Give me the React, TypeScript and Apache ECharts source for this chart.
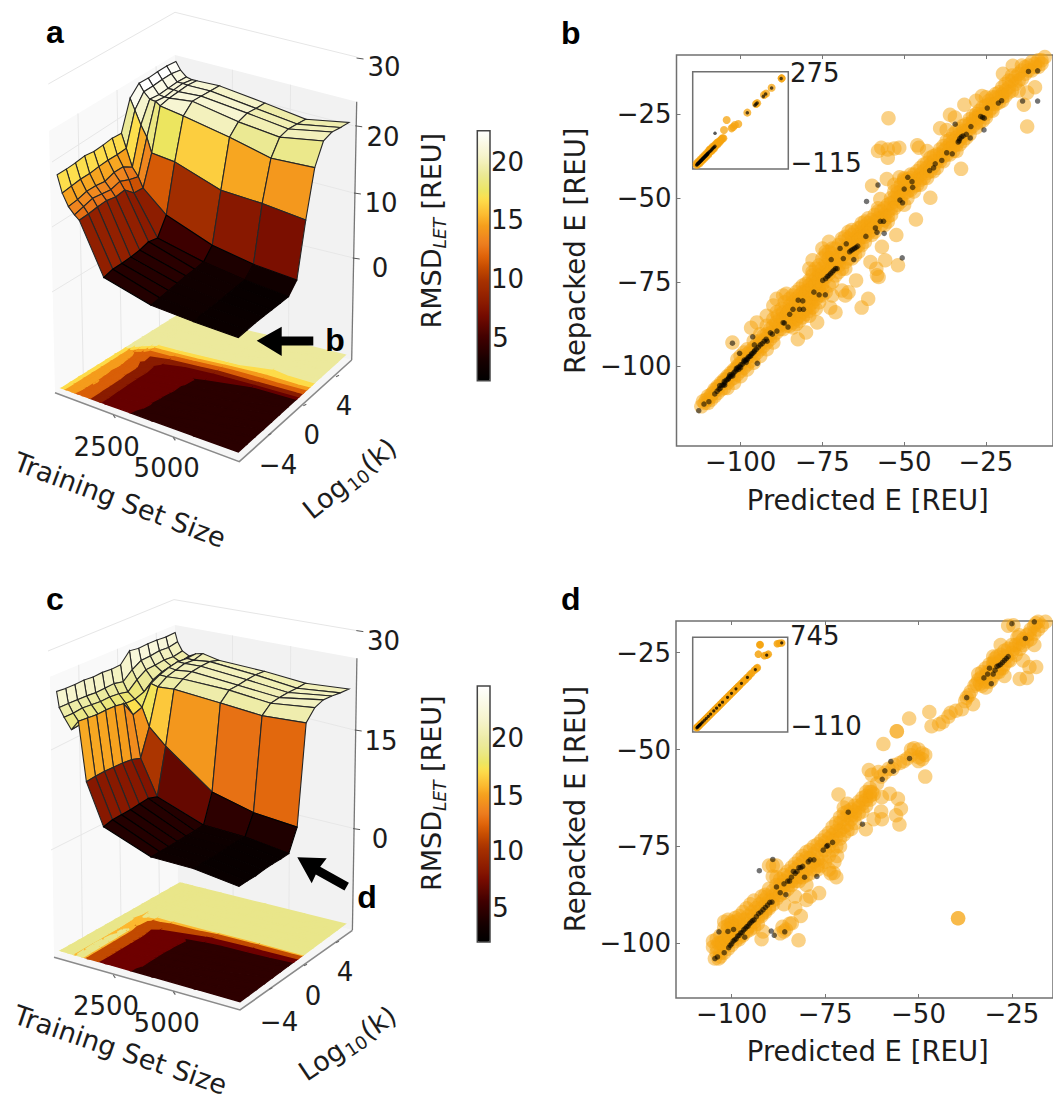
import React, { useEffect, useRef } from "react";
import * as echarts from "echarts";

const DEJAVU = "DejaVu Sans";
const INK = "#1c1c1c";

// ---- 3D surfaces: training set sizes, log10(k) rows, RMSD values (one row per training size)
const K_ROWS = [-7, -6, -5, -4, -3, -2, -1, 0, 1, 2, 3, 4, 5, 6];
const SIZES_A = [100, 300, 550, 800, 1000, 2000, 4000, 5800, 7700];
const SIZES_C = [100, 200, 400, 700, 1000, 1300, 2000, 4000, 5800, 7700];
const RMSD_A = [
  [18.1, 18.0, 18.0, 18.1, 17.8, 17.8, 17.9, 17.7, 22.0, 23.3, 23.1, 23.1, 23.0, 22.7],
  [15.5, 15.6, 15.7, 15.6, 15.7, 15.7, 15.6, 15.6, 20.4, 22.2, 22.1, 22.1, 22.0, 21.6],
  [13.7, 13.8, 14.1, 14.0, 13.7, 14.1, 14.0, 13.0, 18.4, 21.3, 21.0, 21.0, 21.0, 20.8],
  [12.7, 13.0, 13.3, 13.0, 12.7, 13.0, 12.3, 11.8, 16.8, 21.2, 20.9, 21.0, 21.0, 20.6],
  [12.1, 12.1, 12.2, 12.2, 11.8, 11.9, 10.5, 10.3, 14.6, 20.7, 20.9, 20.9, 20.9, 20.6],
  [4.5, 4.8, 4.7, 4.7, 4.8, 5.1, 4.7, 7.2, 14.2, 20.1, 21.3, 21.1, 20.9, 20.7],
  [2.6, 2.7, 2.8, 2.9, 3.0, 3.0, 3.1, 4.6, 11.8, 18.7, 20.0, 20.3, 20.0, 19.8],
  [2.2, 2.3, 2.2, 2.2, 2.2, 2.2, 2.2, 3.5, 11.5, 17.2, 19.3, 19.5, 19.2, 18.9],
  [2.0, 2.0, 2.0, 1.9, 1.8, 1.7, 1.6, 3.0, 10.8, 17.5, 20.4, 20.7, 20.3, 20.0],
];
const RMSD_C = [
  [22.9, 22.7, 22.6, 22.6, 22.4, 22.4, 22.2, 22.2, 23.6, 23.3, 23.3, 23.2, 23.0, 23.0],
  [20.7, 20.6, 20.5, 20.4, 20.2, 20.2, 20.2, 19.8, 20.9, 21.6, 21.6, 21.7, 21.5, 21.7],
  [19.5, 19.4, 19.5, 19.3, 19.1, 19.1, 18.9, 18.5, 19.6, 20.4, 20.4, 20.5, 20.3, 20.5],
  [18.0, 18.1, 18.2, 18.1, 17.9, 17.9, 17.8, 17.7, 18.1, 19.2, 19.7, 19.9, 19.8, 20.0],
  [19.5, 19.3, 19.1, 19.1, 19.0, 18.7, 16.4, 16.8, 19.6, 20.2, 20.6, 20.8, 20.6, 20.6],
  [11.1, 11.2, 11.2, 11.1, 11.0, 10.8, 10.3, 14.2, 19.4, 20.2, 20.5, 20.8, 20.6, 20.9],
  [5.3, 5.6, 5.6, 5.6, 5.7, 5.8, 5.3, 12.0, 19.7, 20.5, 20.9, 21.0, 21.0, 20.5],
  [2.9, 2.9, 2.9, 2.9, 2.9, 2.9, 3.0, 7.1, 19.5, 20.7, 20.7, 20.8, 20.8, 20.6],
  [3.0, 3.0, 2.9, 2.9, 3.0, 3.0, 2.9, 5.7, 19.3, 20.4, 20.5, 20.5, 20.4, 20.4],
  [2.3, 2.3, 2.2, 2.3, 2.3, 2.2, 2.2, 5.3, 20.0, 21.5, 21.9, 21.7, 21.4, 21.2],
];
const LEVELS_A = [3.5, 6.2, 9.7, 13.2, 15.8, 18.3];
const BANDS_A = ["#2a0000", "#660000", "#8a1c00", "#d95f08", "#f59c1c", "#fddc4a", "#ece99c"];
const LEVELS_C = [4.0, 7.8, 15.9, 18.2];
const BANDS_C = ["#2e0000", "#6e0000", "#c24a00", "#fcb82f", "#e9e68a"];

// ---- Scatter b
const B_ORANGE = [[-112,-112],[-111,-111],[-110.5,-110],[-110,-111],[-109,-108.5],[-109,-110],[-108,-107],[-108,-109],[-107,-106],[-107,-108],[-106,-105],[-106,-107],[-105,-104],[-105,-106.5],[-104,-103],[-104,-105],[-103,-102],[-103,-104],[-102,-101],[-102,-103.5],[-101,-100],[-101,-102.5],[-100,-99],[-100,-101.5],[-99,-98],[-99,-100.5],[-98,-96.5],[-98,-99.5],[-97,-95.5],[-97,-98.5],[-96,-94.5],[-96,-97],[-95,-93.5],[-95,-96],[-94,-92.5],[-94,-95],[-93,-91],[-93,-94],[-92,-90.5],[-92,-93],[-91,-89],[-91,-92],[-90,-88],[-90,-91],[-102.5,-93],
[-89,-87],[-89,-90],[-89,-84],[-88,-86],[-88,-89],[-87,-84],[-87,-87.5],[-86,-83],[-86,-86],[-85,-82],[-85,-85],[-85,-88],[-84,-81],[-84,-84],[-84,-87],[-83,-80],[-83,-83],[-83,-86],[-82,-79],[-82,-82],[-82,-85],[-81,-78],[-81,-81],[-81,-84],[-80,-77.5],[-80,-80],[-80,-83],[-79,-76],[-79,-79],[-79,-82],[-78,-75],[-78,-78],[-78,-81],[-77,-74],[-77,-77],[-77,-80],[-76,-73],[-76,-76],[-76,-79],[-75,-74],[-75,-77],
[-96.8,-88.6],[-95,-87],[-92,-85],[-90,-82],[-89,-80],[-87,-79],[-86,-78.5],[-78,-68.5],[-79,-71],[-78,-73],[-76,-72],[-75,-71],[-74,-69],[-75,-65],[-73,-66],[-72,-65],[-74,-67],[-73,-63],[-72,-68],
[-82.5,-92],[-80,-90],[-76.6,-87],[-79,-85],[-72.6,-82.6],[-72,-79],[-71,-84],[-69,-77.5],[-68,-79],[-67,-78],[-63,-82.6],[-61,-80],[-64.7,-74.5],[-58.3,-73],[-57.8,-73.5],[-58.5,-71],[-60.3,-69],[-55.8,-68.5],[-56.8,-64.5],[-51.9,-70],[-52.4,-61],[-46.4,-56.4],
[-74,-72],[-73,-71],[-72,-70],[-71,-69],[-70,-67],[-70,-70],[-69,-66],[-69,-63],[-68,-65],[-68,-69],[-67,-64],[-67,-62],[-66,-63],[-66,-59.5],[-66,-66],[-65,-62],[-65,-65],[-64,-61],[-64,-64],[-63,-60],[-63,-57.5],[-62,-60],[-62,-57],[-62,-63],[-61,-59],[-61,-56],[-60,-58],[-60,-61],[-59,-57],[-59,-60],[-58,-56],[-58,-54],[-57,-56],[-56,-55],[-56,-58],[-55,-54],[-55,-57],[-54,-53],[-54,-50],[-53,-51],[-53,-48],[-52,-50],[-52,-47],[-51,-48],[-51,-51],[-50,-47],[-50,-44],[-49,-46],[-49,-50],[-48,-46],[-48,-44],[-47,-45],[-47,-48],[-46,-44],[-45,-43],[-45,-46],[-44,-42],[-43,-41],[-43,-44],[-42,-40],[-41,-39],[-41,-42],[-40,-39],[-39,-37],[-39,-39],[-38,-36],[-38,-39],[-37,-35],[-36,-34],[-36,-37],[-35,-33],[-35,-36],[-34,-32],[-34,-36],[-33,-31],[-33,-34],[-32,-30],[-32,-33],[-31,-30],[-30,-28],[-30,-31],[-29,-27],[-28,-26],[-28,-29],[-27,-25],[-27,-27.5],[-26,-25],[-25,-24],[-25,-26],[-24,-22],[-23,-22],[-23,-24],[-22,-20],[-21,-20],[-20,-19],[-20,-21],[-19,-18],[-18,-17],[-17,-15],[-17,-18],[-16,-14],[-15,-15],[-14,-12],[-13,-13],[-12,-10.5],[-11,-12],[-10,-10],[-9,-11],[-8,-9],
[-54.8,-26.2],[-57,-35],[-55,-35.5],[-53,-35.2],[-51.5,-35],[-58,-36],[-55,-38],[-46,-34.3],[-45.5,-35],[-59.8,-46.3],[-55.3,-44.3],[-51.4,-43.8],[-57.3,-50.3],[-53,-46],[-50,-44.5],[-42,-49.9],[-32.6,-41.3],[-36,-25.2],[-34.5,-26],[-31.6,-22.2],[-39,-29.2],[-37,-29.7],[-26.2,-19.6],[-19.8,-13],[-16.8,-10.6],[-12.4,-28.7],[-13.4,-22.2],[-12.4,-18.6],[-43,-36],[-28,-21],[-25,-20],[-15,-18],[-10,-17]];
const B_ORANGE_BAND = [[-111.5,-110.5],[-110,-109],[-109.5,-109.5],[-108.5,-108],[-107.5,-107],[-106.5,-106],[-105.5,-105],[-104.5,-104],[-103.5,-103],[-102.5,-102],[-101.5,-101],[-100.5,-100],[-99.5,-99],[-98.5,-98],[-97.5,-97],[-96.5,-96],[-95.5,-95],[-94.5,-94],[-93.5,-93],[-92.5,-92],[-91.5,-91],[-90.5,-90],[-104,-106.5],[-102,-105],[-100,-103],[-98,-101],[-96,-99],[-94,-97],[-92,-95],[-90,-93],[-100,-97],[-98,-95],[-96,-92.5],[-94,-90.5],[-92,-88],[-90,-86],[-101,-98],[-99,-96],
[-89,-88],[-88.5,-85],[-88,-88],[-87.5,-83],[-87,-86],[-87,-89],[-86.5,-81],[-86,-85],[-86,-88],[-85.5,-84],[-85,-80],[-85,-83.5],[-85,-86.5],[-84,-79],[-84,-82.5],[-84,-85.5],[-84,-88.5],[-83,-78],[-83,-81.5],[-83,-84.5],[-83,-87.5],[-82,-77],[-82,-80.5],[-82,-83.5],[-82,-86.5],[-81,-76],[-81,-79.5],[-81,-82.5],[-81,-85.5],[-80,-75.5],[-80,-78.5],[-80,-81.5],[-80,-84.5],[-79,-74.5],[-79,-77.5],[-79,-80.5],[-79,-83.5],[-78,-72],[-78,-76.5],[-78,-79.5],[-78,-82.5],[-77,-71],[-77,-75.5],[-77,-78.5],[-77,-83],[-76,-70],[-76,-74.5],[-76,-77.5],[-76,-81],[-75,-68],[-75,-72.5],[-75,-75.5],[-75,-79],[-74,-66],[-74,-70],[-74,-73.5],[-74,-78],[-73,-68],[-73,-72.5],[-73,-76],[-72,-66.5],[-72,-71],[-72,-75],[-71,-65],[-71,-70],[-71,-73],[-70,-64],[-70,-68.5],[-70,-72],[-69,-62],[-69,-67.5],[-69,-71],[-68,-61.5],[-68,-66.5],[-68,-71],[-67,-60],[-67,-65],[-67,-68],[-66,-61],[-66,-64.5],[-66,-68],[-65,-60],[-65,-63.5],[-65,-67],[-64,-59],[-64,-62.5],[-64,-66],[-63,-58.5],[-63,-61.5],[-63,-64],[-62,-58.5],[-62,-61.5],[-61,-57.5],[-61,-60.5],[-60,-56.5],[-60,-59.5],[-59,-55],[-59,-58.5],[-58,-57],[-58,-53],[-57,-54],[-57,-58],[-56,-53],[-56,-56.5],[-55,-52],[-55,-55.5],[-54,-51.5],[-54,-55],[-53,-50],[-53,-53],[-52,-48.5],[-52,-52],[-51,-46],[-51,-49.5],[-50,-45],[-50,-48.5],[-50,-52],[-49,-44.5],[-49,-48],[-48,-43],[-48,-47.5],[-47,-43],[-47,-46.5],[-46,-42],[-46,-46],[-45,-41],[-45,-44.5],[-44,-40],[-44,-44],[-43,-39.5],[-43,-42.5],[-42,-38],[-42,-42],[-41,-37.5],[-41,-40.5],[-40,-37],[-40,-41],[-39,-35.5],[-39,-38],[-38,-34.5],[-38,-37.5],[-37,-33],[-37,-37],[-36,-32.5],[-36,-35.5],[-35,-31],[-35,-34.5],[-34,-30],[-34,-34],[-33,-29.5],[-33,-32.5],[-32,-28.5],[-32,-31.5],[-31,-28],[-31,-32],[-30,-26.5],[-30,-29.5],[-29,-25.5],[-29,-28.5],[-28,-25],[-28,-27.5],[-27,-24],[-27,-26],[-26,-23],[-26,-27],[-25,-22.5],[-25,-25],[-24,-21],[-24,-24],[-23,-20],[-23,-23],[-22,-19],[-22,-22],[-21,-18.5],[-21,-21.5],[-20,-17],[-20,-20],[-19,-16],[-19,-19.5],[-18,-15],[-18,-18.5],[-17,-13.5],[-16,-16],[-15,-13],[-14,-14.5],[-14,-10.5],[-13,-11],[-12,-12],[-11,-9.5],[-10,-11],[-9,-9],[-8,-10],[-7,-8]];
const B_BLACK = [[-112.8,-113.3],[-111.2,-111.3],[-109.7,-110.6],[-107.9,-108.3],[-107.2,-107.5],[-106.6,-106.9],[-106.2,-106.6],[-105.7,-105.7],[-105.3,-105.6],[-104.8,-105],[-104.4,-104.2],[-103.9,-104],[-103.5,-103.2],[-103,-103.1],[-102.6,-102.5],[-102.1,-102],[-101.7,-101.6],[-101.2,-101.1],[-100.8,-100.4],[-100.3,-100.2],[-99.9,-99.6],[-99.4,-99.4],[-99,-98.7],[-98.5,-98.4],[-98.1,-97.9],[-97.6,-97.3],[-97.2,-97.1],[-96.7,-96.4],[-96.3,-96.2],[-95.7,-95.4],[-95.2,-95],[-94.6,-94.4],[-94,-93.7],[-93.4,-93.3],[-92.8,-92.6],[-92.2,-92],[-106.4,-105.8],[-105,-104.6],[-103.7,-103.7],[-102.4,-102.9],[-101.3,-100.7],[-100,-100.5],[-98.9,-98.2],[-97.9,-98],[-96.9,-97],[-95.9,-95.8],[-104.9,-105.7],[-103.3,-102.6],[-100.6,-101],[-98.3,-98.9],
[-102.5,-93.2],[-95.8,-93.7],[-94.9,-99.2],[-96.3,-91.3],[-100.3,-96.2],[-91.9,-92.6],[-90.9,-90.1],[-90.3,-90.5],[-88.9,-89.6],[-87,-87.1],[-86.6,-87.2],[-85.5,-88.4],[-85,-84.6],[-84,-83.1],[-82,-83.1],[-81,-80.6],[-80.8,-83.1],[-82.4,-80.4],[-77.6,-78],[-76,-78.8],[-74.1,-78.8],[-74.9,-74.5],[-74,-74],[-73.5,-73.4],[-73,-73],[-72.5,-72.5],[-72,-72],[-71.5,-71.5],[-71,-71],[-70.5,-71],[-72.3,-68.3],[-69.6,-65],[-67.7,-63.6],[-68.6,-68],[-66.7,-66],[-66.2,-65.6],[-65.7,-65.3],[-65.2,-65],[-64.7,-64.7],[-64.2,-64.3],[-65.4,-68.3],[-61.7,-61.4],[-58.8,-58.9],[-58.3,-60.2],[-56.1,-60.5],[-57.3,-56.9],[-56.3,-56.9],[-61.5,-51],[-50.6,-67.8],[-58,-46.1],[-51.3,-50.6],[-50.5,-51.4],[-50,-47.3],[-48.9,-43.8],[-47.6,-45.1],[-47.4,-46.8],[-42.2,-41.8],[-41,-41],[-40.5,-39.8],[-38.5,-38.8],[-37,-36.5],[-35.3,-36.8],[-33.5,-33.3],[-33.2,-33],[-33,-32.3],[-32.5,-31.8],[-32,-31.5],[-31,-31],[-29.8,-32.1],[-29.6,-28.7],[-34.4,-28],[-26.6,-25.7],[-26,-26],[-25.5,-26.2],[-24.6,-23.2],[-25.6,-29.7],[-21.2,-21.7],[-20.2,-21],[-13.8,-21.1],[-9.2,-21.1],[-12,-12.3],[-9.2,-12.1]];
const B_INSET_ORANGE = [[-112,-113],[-108,-108],[-104,-105],[-100,-99],[-96,-97],[-92,-90],[-88,-90],[-84,-83],[-80,-82],[-76,-74],[-72,-74],[-68,-66],[-64,-62],[-60,-62],[-56,-50],[-52,-54],[-48,-44],[-44,-46],[-40,-36],[-36,-38],[-32,-30],[-28,-28],[-24,-20],[-20,-22],[-16,-12],[-12,-14],[-8,-6],[-4,-4],[0,2],[4,6],[8,6],[22.8,86.5],[10.8,42.3],[45,49.7],[52,56],[60,64.4],[75,69],[115.7,119],[154.6,157],[160,161],[190.6,197],[200,204],[225,229.4],[270,270.6],[270,270.6],[-112,-106],[-105,-98],[-100,-106],[-95,-88],[-90,-96],[-85,-78],[-80,-86],[-75,-68],[-70,-76],[-65,-58],[-60,-66],[-55,-46],[-50,-42],[-45,-50],[-40,-32],[-35,-40],[-30,-24],[-20,-14]];
const B_INSET_BLACK = [[-112,-112],[-110,-110],[-108,-107],[-107,-107],[-105,-105],[-104,-104],[-102,-102],[-101,-101],[-99,-99],[-98,-98],[-96,-96],[-95,-95],[-93,-93],[-92,-92],[-90,-90],[-89,-89],[-87,-87],[-86,-86],[-84,-84],[-83,-83],[-81,-81],[-80,-80],[-78,-78],[-77,-77],[-75,-75],[-74,-74],[-72,-72],[-71,-71],[-69,-69],[-68,-68],[-66,-66],[-65,-65],[-63,-63],[-62,-62],[-59,-58],[-55,-54],[-50,-50],[-46,-46],[-42,-42],[-38,-37],[-34,-34],[-30,-30],[-29.6,27.6],[115.7,119],[150,152],[155,157],[160,162],[188,191],[198,201],[225,228],[268,270]];

// ---- Scatter d
const D_ORANGE = [[-104.5,-104],[-103.5,-104],[-103,-102.5],[-104,-101],[-105,-99.5],[-105,-101],[-104,-99],[-103,-100],[-103,-98],[-102,-101],[-102,-99],[-101,-100],[-101,-98],[-100,-99],[-100,-97],[-99,-98],[-99,-95.5],[-98,-97],[-98,-99],[-97,-96],[-97,-98],[-96,-95],[-96,-97],[-95,-94],[-95,-96.5],[-94,-93],[-94,-96],[-93,-92],[-93,-95],[-92,-91],[-92,-93],[-92,-99],[-91.6,-97],[-91,-90],[-91,-92],[-90,-89],[-90,-91],[-102,-94.5],[-101,-94],[-100,-94.5],[-99,-94.5],[-98,-94],[-101,-95.5],[-100,-96],[-97,-92],[-96,-91],[-95,-90],[-94,-89],[-92,-88],[-91,-87.5],
[-90,-86],[-89,-88],[-89,-90],[-89,-80],[-90,-80],[-88,-80],[-89,-82.8],[-88,-83],[-88,-87],[-87,-86],[-87,-85],[-86,-84],[-86,-85],[-85,-83],[-85,-85],[-84,-82],[-84,-84],[-83,-81],[-83,-83],[-82,-80],[-82,-83],[-81,-79],[-81,-82],[-80,-78],[-80,-81],[-80,-85],[-79,-78],[-79,-80],[-78,-77],[-78,-79],[-77,-76],[-77,-78.5],[-76,-75],[-76,-78],[-75,-74],[-75,-76],[-74,-73],[-74,-75],[-73,-72],[-73,-73.5],[-72,-71],[-72,-72.5],[-71,-69],[-71,-71],[-70,-68],[-70,-70],[-69,-67],[-69,-69.5],[-68,-67],[-68,-68],[-67,-66],[-67,-67],[-66,-65],[-65,-64],[-65,-66],[-64,-63],[-64,-61],[-64,-64.5],[-63,-62],[-63,-60],
[-86.4,-95.8],[-85.5,-96.5],[-84.5,-95],[-83.9,-94.9],[-86,-97],[-87,-97.5],[-82.1,-99.3],[-81.5,-93],[-83,-91],[-80,-88.9],[-79,-88],[-76.6,-87.1],[-77,-80],[-72.7,-81.9],[-73.5,-82],[-74,-81],[-72.5,-79],[-71.8,-77.5],[-71,-75],[-72,-83],[-83,-88],[-86,-90],
[-71.4,-61.6],[-70,-65],[-69,-64],
[-59.8,-68],[-64.1,-70.6],[-62,-68],[-60,-66],[-55.5,-62.7],[-54.7,-65.3],[-56,-67],[-55.1,-69.4],[-59.8,-62.3],[-57.7,-61.4],[-63.3,-55.3],[-62.5,-56.5],[-60.7,-55.8],[-61.1,-58.8],[-60,-57],[-59,-56],[-58,-55],[-57,-55],[-56.4,-54],[-55,-53.5],[-54,-53],[-53,-52.3],[-52,-51.5],[-51.2,-49.7],[-52,-50],[-50,-50],[-49,-51],[-50,-52],[-48.2,-51.4],[-49,-52.5],[-48.2,-57],[-50,-53],[-59.4,-48.6],[-55.8,-45.3],[-55.8,-45.3],[-52.5,-42],[-47.1,-40.3],[-46.5,-44],[-43.5,-42.9],[-44.5,-43.5],[-41.4,-40.5],[-42,-41.5],[-40,-40],[-38.4,-39.6],[-37.5,-37.5],[-37.1,-36.6],[-36.5,-36],[-35.4,-38.3],[-36,-35],[-35,-33.5],
[-34,-32],[-33.2,-31.4],[-33.5,-33],[-33,-30],[-32,-31],[-32,-29],[-32,-32.5],[-31,-30],[-31,-28],[-30.5,-32],[-30,-29],[-30,-27.5],[-29.8,-27.9],[-29,-28],[-29,-30],[-28,-27],[-28,-29],[-27,-26],[-27,-28],[-26.4,-26.1],[-26,-27],[-25,-25],[-24.5,-24],[-24,-23],[-23,-22.6],[-22.9,-24],[-22,-21.5],[-21,-20.5],[-20.3,-20],[-20,-19],[-19,-18],[-18,-19],[-18.6,-17.4],[-24.6,-17.9],[-26,-18],[-22.9,-31.8],[-21,-31.5],[-20.3,-28.7],[-18.5,-28.7],[-27,-31],[-38.4,-16.6],[-19,-23],[-22,-27],[-28,-23],[-30,-26],
[-39.4,-93.6],[-39.4,-93.6]];
const D_ORANGE_BAND = [[-103,-103.5],[-102,-102.5],[-101,-101.5],[-100,-100.5],[-99,-99.5],[-98,-98.5],[-97,-97.5],[-96,-96.5],[-95,-95.5],[-94,-94.5],[-93,-93.5],[-92,-92.5],[-91,-91.5],[-90,-90.5],[-104,-102.5],[-103.5,-100],[-102.5,-100],[-101.5,-99],[-100.5,-98.5],[-99.5,-97],[-98.5,-96],[-97.5,-95.5],[-96.5,-94],[-95.5,-93],[-94.5,-92],[-93.5,-91],[-92.5,-90],[-91.5,-89],[-90.5,-88],[-102,-96],[-101,-96.5],[-100,-95],[-99,-93.5],[-98,-93],
[-89,-86.5],[-88,-85],[-87,-83.5],[-86,-82.5],[-85,-81.5],[-84,-80.5],[-83,-79.5],[-82,-78.5],[-81,-77.5],[-80,-76.5],[-79,-76],[-78,-75],[-77,-74.5],[-76,-73.5],[-75,-72.5],[-74,-71.5],[-73,-70],[-72,-69],[-71,-67.5],[-70,-66.5],[-69,-66],[-68,-65.5],[-67,-64.5],[-66,-63.5],[-66,-66.5],[-65,-62.5],[-64,-62],[-63,-63],[-63,-61],[-62.5,-61],[-62,-61.5],
[-89,-89],[-88,-88.5],[-87,-87.5],[-86,-87],[-85,-86],[-84,-85],[-83,-84],[-82,-84],[-81,-83],[-80,-82.5],[-79,-82],[-78,-81],[-77,-81],[-76,-80],[-75,-79],[-74,-77.5],[-73,-76],[-72,-75],[-71,-73],[-70,-72],[-69,-71],[-68,-70.5],[-67,-69],
[-34.5,-33],[-34,-30.5],[-33,-33.5],[-32,-34],[-31.5,-30],[-31,-32.5],[-30,-31],[-29.5,-26.5],[-29,-26],[-28.5,-30],[-28,-25.5],[-27.5,-29],[-27,-24.5],[-26,-24],[-25.5,-27],[-25,-23],[-24,-25.5],[-23.5,-21],[-23,-20.5],[-22,-23],[-21,-22],[-20,-21.5],[-19,-20],[-18,-17],[-17,-18],[-16,-17]];
const D_BLACK = [[-103.4,-97.1],[-104.5,-104],[-103.8,-103.6],[-102,-102.5],[-100.8,-101.2],[-100.4,-100.6],[-100,-100.2],[-99.6,-99.5],[-99.2,-99.2],[-98.8,-98.9],[-98.4,-98.2],[-98,-98],[-97.6,-97.4],[-97.2,-97.3],[-96.8,-96.6],[-96.4,-96.3],[-96,-95.8],[-95.6,-95.6],[-95.2,-95],[-94.8,-94.6],[-94.4,-94.2],[-94,-94],[-93.4,-93.2],[-92.8,-92.4],[-92.2,-92],[-91.6,-91.4],[-91,-90.8],[-90.4,-90.2],[-89.8,-89.5],[-89.2,-89.4],[-101,-97],[-99.5,-96.5],[-96.5,-98.5],[-92.6,-81.3],[-89,-78.4],[-77.2,-82.8],[-65,-69.3],[-68.8,-66.2],[-59.7,-57.7],[-57.4,-53.1],[-59,-55.5],[-56.7,-55.6],[-52.4,-52.3],[-37.1,-36.6],[-89.4,-96.9],[-85.8,-97.1],[-88.6,-98],[-88,-85.5],[-87,-87],[-86,-84.7],[-85.5,-87.5],[-85,-84],[-84.5,-84],[-84,-83],[-83.5,-81.5],[-83,-82],[-82.5,-81.5],[-82,-80.5],[-81.5,-80.5],[-81,-80.2],[-80.5,-83],[-79.5,-79],[-79,-78.5],[-78,-78.5],[-75.5,-76],[-74.6,-75],[-74.3,-74.8],[-73,-74],[-32.5,-31.5],[-31.5,-30.5],[-31,-29],[-30,-30.5],[-29.5,-29.5],[-29,-28.5],[-28.5,-28.3],[-28,-28],[-27.5,-27.5],[-27,-27],[-26.5,-26.5],[-26,-26],[-30.5,-33],[-21.4,-21.3],[-25,-17.5],[-19,-17]];
const D_INSET_ORANGE = [[-110,-108],[-105,-102],[-98,-100],[-90,-88],[-80,-82],[-70,-68],[-60,-62],[-50,-48],[-40,-42],[-30,-28],[-20,-22],[-10,-8],[0,-2],[10,12],[20,18],[30,32],[40,38],[50,52],[60,58],[70,72],[80,78],[90,92],[100,98],[110,112],[120,118],[130,132],[140,138],[150,152],[160,158],[170,172],[180,178],[190,192],[200,198],[210,212],[220,218],[230,232],[240,238],[250,252],[260,258],[270,272],[280,278],[290,292],[300,298],[310,312],[320,318],[335,337],[350,348],[365,367],[380,378],[395,397],[410,408],[425,427],[443,445],[470,472],[490,490],[500,499],[510,635],[525,730],[528,731],[570,620],[594,625],[610,635],[700,740],[720,745],[745,748]];
const D_INSET_BLACK = [[-108,-108],[-102,-102],[-96,-96],[-90,-90],[-84,-84],[-78,-78],[-72,-72],[-60,-60],[-48,-48],[-30,-30],[-12,-12],[8,8],[30,30],[62,62],[90,90],[120,120],[150,150],[200,200],[240,240],[285,285],[340,340],[400,400],[480,480],[594,625],[745,748]];

// ---- Tick labels
const SCATTER_TICKS = [-100, -75, -50, -25];

// ---- colour map
const CMAP_STOPS: [number, string][] = [[0,"#000000"],[0.075,"#150000"],[0.17,"#3f0000"],[0.265,"#780c00"],[0.31,"#8a1a00"],[0.4,"#a83200"],[0.45,"#c44a00"],[0.5,"#e0640a"],[0.55,"#ee7f20"],[0.62,"#f59e1c"],[0.66,"#fbb82e"],[0.73,"#fde04e"],[0.755,"#ece55f"],[0.83,"#ebe99a"],[0.9,"#f6f4cc"],[1,"#ffffff"]];
const hex = (s: string) => [1, 3, 5].map((i) => parseInt(s.slice(i, i + 2), 16));
function cmap(t: number) {
  const c = Math.max(0, Math.min(1, t));
  for (let i = 1; i < CMAP_STOPS.length; i++) {
    const [t1, s1] = CMAP_STOPS[i];
    if (c <= t1) {
      const [t0, s0] = CMAP_STOPS[i - 1];
      const f = (c - t0) / (t1 - t0);
      const a = hex(s0), b = hex(s1);
      return `rgb(${a.map((v, k) => Math.round(v + (b[k] - v) * f)).join(",")})`;
    }
  }
  return "#ffffff";
}
const plainTone = (t: number) => t;
const warpTone = (t: number) => (t < 0.75 ? t * 1.085 : 0.814 + (t - 0.75) * (0.186 / 0.25));

type Box = { fx: number[]; fy: number[]; s: number[]; lean: number[]; zf: number };
const BOX_A: Box = { fx: [61.7, 238.3, 345, 180], fy: [388, 452, 355, 314], s: [6.5, 6.85, 6.7, 6.75], lean: [-0.14, 0, 0.115, -0.11], zf: -14.7 };
const BOX_C: Box = { fx: [60.7, 240, 345, 180], fy: [950.7, 1001.7, 924, 883], s: [6.95, 6.9, 6.6, 6.7], lean: [-0.11, -0.06, 0.11, -0.13], zf: -14.4 };

function project(b: Box, u: number, v: number, z: number) {
  const bil = (a: number[]) => (1 - u) * (1 - v) * a[0] + u * (1 - v) * a[1] + u * v * a[2] + (1 - u) * v * a[3];
  const dz = z - b.zf;
  return [bil(b.fx) + dz * bil(b.lean), bil(b.fy) - dz * bil(b.s)];
}
const uOf = (x: number) => (x - 100) / 7600;
const vOf = (k: number) => (k + 7) / 13;

function surfaceSeries(box: Box, sizes: number[], Z: number[][], vmin: number, vmax: number, tone: (t: number) => number) {
  const faces: { i: number; j: number; d: number; c: string; t: number }[] = [];
  for (let i = 0; i < sizes.length - 1; i++)
    for (let j = 0; j < K_ROWS.length - 1; j++) {
      const mean = (Z[i][j] + Z[i + 1][j] + Z[i][j + 1] + Z[i + 1][j + 1]) / 4;
      const um = (uOf(sizes[i]) + uOf(sizes[i + 1])) / 2;
      const vm = (vOf(K_ROWS[j]) + vOf(K_ROWS[j + 1])) / 2;
      const t = tone((mean - vmin) / (vmax - vmin));
      faces.push({ i, j, d: project(box, um, vm, box.zf)[1], c: cmap(t), t });
    }
  faces.sort((a, b) => a.d - b.d);
  return {
    type: "custom", coordinateSystem: "none", silent: true, z: 3, clip: false,
    data: faces.map((f) => [f.i, f.j]),
    renderItem: (p: any) => {
      const f = faces[p.dataIndex];
      const pts = [[f.i, f.j], [f.i + 1, f.j], [f.i + 1, f.j + 1], [f.i, f.j + 1]].map(([a, c]) =>
        project(box, uOf(sizes[a]), vOf(K_ROWS[c]), Z[a][c]));
      const stroke = f.t < 0.06 ? f.c : f.t < 0.2 ? "#000" : "#262626";
      return { type: "polygon", shape: { points: pts }, style: { fill: f.c, stroke, lineWidth: 1.1 } };
    },
  };
}

type V = [number, number, number];
function clip(poly: V[], level: number, keepAbove: boolean): V[] {
  const out: V[] = [];
  const inside = (p: V) => (keepAbove ? p[2] >= level : p[2] <= level);
  for (let n = 0; n < poly.length; n++) {
    const a = poly[n], b = poly[(n + 1) % poly.length];
    if (inside(a)) out.push(a);
    if (inside(a) !== inside(b)) {
      const f = (level - a[2]) / (b[2] - a[2]);
      out.push([a[0] + (b[0] - a[0]) * f, a[1] + (b[1] - a[1]) * f, level]);
    }
  }
  return out;
}
function contourSeries(box: Box, sizes: number[], Z: number[][], levels: number[], colors: string[]) {
  const bounds = [-100, ...levels, 100];
  const polys: { pts: V[]; c: string }[] = [];
  for (let i = 0; i < sizes.length - 1; i++)
    for (let j = 0; j < K_ROWS.length - 1; j++) {
      const vx = (a: number, c: number): V => [uOf(sizes[a]), vOf(K_ROWS[c]), Z[a][c]];
      const tris: V[][] = [[vx(i, j), vx(i + 1, j), vx(i + 1, j + 1)], [vx(i, j), vx(i + 1, j + 1), vx(i, j + 1)]];
      tris.forEach((t) => {
        for (let b = 0; b < colors.length; b++) {
          const cl = clip(clip(t, bounds[b], true), bounds[b + 1], false);
          if (cl.length >= 3) polys.push({ pts: cl, c: colors[b] });
        }
      });
    }
  return {
    type: "custom", coordinateSystem: "none", silent: true, z: 2, clip: false,
    data: polys.map((_, n) => [n]),
    renderItem: (p: any) => {
      const q = polys[p.dataIndex];
      return { type: "polygon", shape: { points: q.pts.map((w) => project(box, w[0], w[1], box.zf)) }, style: { fill: q.c, stroke: q.c, lineWidth: 1.4 } };
    },
  };
}

const minusFmt = (v: number) => String(v).replace("-", "\u2212");

function scatterAxes(grid: number, min: number, max: number) {
  const tick = { show: true, inside: true, length: 4, customValues: SCATTER_TICKS, lineStyle: { color: "#777", width: 1 } };
  return {
    main: { type: "value", gridIndex: grid, min, max, splitLine: { show: false }, axisLine: { show: false }, axisTick: tick },
    label: (margin: number) => ({ show: true, margin, customValues: SCATTER_TICKS, formatter: minusFmt, fontFamily: DEJAVU, fontSize: 26, color: INK, hideOverlap: false, showMinLabel: true, showMaxLabel: true }),
  };
}

const txt = (text: string, x: number, y: number, size: number, extra: any = {}) => ({
  type: "text", x, y, z: 50, silent: true, rotation: extra.rotation || 0,
  style: { text, fill: extra.fill || INK, font: `${extra.style || "normal"} ${extra.weight || "normal"} ${size}px "${extra.family || DEJAVU}"`, align: extra.align || "center", verticalAlign: "middle" },
});
const seg = (p: number[], q: number[], color: string, width: number, z = 1) => ({
  type: "line", silent: true, z, shape: { x1: p[0], y1: p[1], x2: q[0], y2: q[1] }, style: { stroke: color, lineWidth: width },
});
const poly = (pts: number[][], fill: string, z = 0) => ({ type: "polygon", silent: true, z, shape: { points: pts }, style: { fill } });

function mix(a: number[], b: number[], f: number) { return [a[0] + (b[0] - a[0]) * f, a[1] + (b[1] - a[1]) * f]; }

type Frame = { L: number[]; F: number[]; R: number[]; B: number[]; LT: number[]; BT: number[]; RT: number[]; LU: number[]; BU: number[]; RU: number[]; zAxisTicks: number[]; zLeft: number[]; zBack: number[] };
function paneGraphics(f: Frame) {
  const grid = "#e7e7e7";
  const out: any[] = [
    poly([f.L, f.F, f.R, f.B], "#f6f6f6"),
    poly([f.L, f.B, f.BT, f.LT], "#f9f9f9"),
    poly([f.B, f.R, f.RT, f.BT], "#f2f2f2"),
  ];
  [0.23, 0.54, 0.85].forEach((v) => out.push(seg(mix(f.L, f.B, v), mix(f.LT, f.BT, v), grid, 1)));
  [0.316, 0.636].forEach((u) => out.push(seg(mix(f.B, f.R, u), mix(f.BT, f.RT, u), grid, 1)));
  f.zAxisTicks.forEach((y, n) => {
    if (f.zBack[n] > f.BT[1]) {
      out.push(seg([f.B[0], f.zBack[n]], [f.R[0] + 2, y], grid, 1));
      out.push(seg([f.B[0], f.zBack[n]], [f.L[0] - 3, f.zLeft[n]], grid, 1));
    }
  });
  out.push(seg(f.BU, f.LU, "#e6e6e6", 1), seg(f.BU, f.RU, "#e6e6e6", 1));
  out.push(seg(f.RT, f.R, "#777", 1.3, 1));
  out.push({ type: "polyline", silent: true, z: 1, shape: { points: [f.L, f.F, f.R] }, style: { stroke: "#8a8a8a", lineWidth: 1.6, fill: "none" } });
  f.zAxisTicks.forEach((y) => {
    const x = f.R[0] + (f.RT[0] - f.R[0]) * (f.R[1] - y) / (f.R[1] - f.RT[1]);
    out.push(seg([x - 1, y], [x + 6, y + 1], "#555", 1, 1));
  });
  return out;
}
function ticks(pts: number[][], dx: number, dy: number) {
  return pts.map((p) => seg(p, [p[0] + dx, p[1] + dy], "#666", 1.2, 51));
}

function colorbarMap(vmin: number, vmax: number, top: number, height: number, tone: (t: number) => number) {
  const colors: string[] = [];
  for (let i = 0; i <= 50; i++) colors.push(cmap(tone(i / 50)));
  return { type: "continuous", seriesIndex: [], min: vmin, max: vmax, left: 477.5, top, itemWidth: 12.5, itemHeight: height, padding: 0, text: null, calculable: false, show: true, hoverLink: false, inRange: { color: colors }, textStyle: { fontSize: 0 }, showLabel: false };
}

export default function App() {
  const ref = useRef<HTMLDivElement>(null);
  useEffect(() => {
    document.body.style.margin = "0";
    document.body.style.overflow = "hidden";
    const chart = echarts.init(ref.current!, undefined, { renderer: "svg" });

    const bx = scatterAxes(0, -119.6, -4.5), by = scatterAxes(0, -123.8, -7.4);
    const dx = scatterAxes(2, -114.9, -14), dy = scatterAxes(2, -114.2, -16.8);
    const hidden = (grid: number, min: number, max: number) => ({ type: "value", gridIndex: grid, min, max, show: false, splitLine: { show: false } });

    const frameA: Frame = { L: [55, 392.7], F: [239.3, 461.7], R: [351.7, 360], B: [178, 316], LT: [49, 131], BT: [175, 55], RT: [356.7, 101.7], LU: [48.3, 84], BU: [175, 12.3], RU: [356.7, 57], zAxisTicks: [258, 193, 125.8, 58], zLeft: [292, 227, 162, 97], zBack: [215, 147, 80, 12] };
    const frameC: Frame = { L: [54, 957.3], F: [240, 1010], R: [352.4, 930.3], B: [178, 886], LT: [50, 676.7], BT: [175, 625], RT: [356.9, 658.2], LU: [48, 651], BU: [174, 599.6], RU: [357, 630.6], zAxisTicks: [828.6, 730, 630.6], zLeft: [850, 750, 650], zBack: [786, 686, 586] };

    const graphicEls: any[] = [
      ...paneGraphics(frameA), ...paneGraphics(frameC),
      ...ticks([[113.3, 415], [173.3, 437.3]], 2, 3), ...ticks([[113.3, 975], [173.3, 991.7]], 2, 3),
      ...ticks([[268.3, 435], [303.3, 405.7], [336, 376.7]], 3, -1.5), ...ticks([[269.3, 989.3], [304, 965.7], [336, 942.7]], 3, -1.5),

      txt("a", 55, 32, 32, { weight: "bold", family: "Liberation Sans", fill: "#000" }),
      txt("b", 570.7, 33, 32, { weight: "bold", family: "Liberation Sans", fill: "#000" }),
      txt("c", 55, 598.6, 32, { weight: "bold", family: "Liberation Sans", fill: "#000" }),
      txt("d", 570.7, 598.6, 32, { weight: "bold", family: "Liberation Sans", fill: "#000" }),
      txt("b", 335, 340, 32, { weight: "bold", family: "Liberation Sans", fill: "#000" }),
      txt("d", 367, 897, 32, { weight: "bold", family: "Liberation Sans", fill: "#000" }),

      poly([[256.7, 340.7], [281.7, 326.7], [281.7, 336.5], [313.3, 336.5], [313.3, 345.5], [281.7, 345.5], [281.7, 356]], "#000", 52),
      poly([[297.3, 857.3], [326.7, 858.3], [320.2, 866.8], [348.9, 882.8], [344.5, 890.6], [315.8, 874.6], [311.7, 883.3]], "#000", 52),

      txt("30", 384, 66.7, 26), txt("20", 383, 137, 26), txt("10", 381, 203, 26), txt("0", 380, 268, 26),
      txt("2500", 106.7, 447, 26), txt("5000", 166.7, 468, 26), txt("\u22124", 278, 465, 26), txt("0", 311.7, 435, 26), txt("4", 344, 406, 26),
      txt("30", 383.5, 641.4, 26), txt("15", 381, 740.7, 26), txt("0", 380, 838.7, 26),
      txt("2500", 106, 1006, 26), txt("5000", 166.7, 1023, 26), txt("\u22124", 279, 1021.7, 26), txt("0", 313, 996, 26), txt("4", 345, 972.3, 26),

      txt("Training Set Size", 120, 500, 27, { rotation: -0.36 }),
      txt("Training Set Size", 120.5, 1050, 27, { rotation: -0.33 }),
      { type: "group", x: 350, y: 478, rotation: 0.675, silent: true, children: [
        txt("Log", -56, 0, 27, { align: "left" }), txt("10", -6, 7, 18, { align: "left" }), txt("(k)", 18, 0, 27, { align: "left" }),
      ] },
      { type: "group", x: 348, y: 1043, rotation: 0.59, silent: true, children: [
        txt("Log", -56, 0, 27, { align: "left" }), txt("10", -6, 7, 18, { align: "left" }), txt("(k)", 18, 0, 27, { align: "left" }),
      ] },

      { type: "group", x: 431, y: 229.5, rotation: Math.PI / 2, silent: true, children: [
        txt("RMSD", -99, 0, 27, { align: "left" }), txt("LET", -19, 9, 17, { align: "left", style: "italic" }), txt("[REU]", 20, 0, 27, { align: "left" }),
      ] },
      { type: "group", x: 431, y: 792, rotation: Math.PI / 2, silent: true, children: [
        txt("RMSD", -99, 0, 27, { align: "left" }), txt("LET", -19, 9, 17, { align: "left", style: "italic" }), txt("[REU]", 20, 0, 27, { align: "left" }),
      ] },

      txt("20", 507.6, 161.7, 26), txt("15", 507.6, 220, 26), txt("10", 507.6, 279.3, 26), txt("5", 500.5, 338.3, 26),
      txt("20", 507.6, 738.4, 26), txt("15", 507.6, 795.6, 26), txt("10", 507.6, 851, 26), txt("5", 500.5, 908.4, 26),
      { type: "rect", silent: true, z: 51, shape: { x: 477.3, y: 130.7, width: 12.7, height: 250 }, style: { fill: "none", stroke: "#444", lineWidth: 1.5 } },
      { type: "rect", silent: true, z: 51, shape: { x: 477.3, y: 686, width: 12.7, height: 256 }, style: { fill: "none", stroke: "#444", lineWidth: 1.5 } },

      txt("Predicted E [REU]", 867.8, 499.6, 27.5),
      txt("Predicted E [REU]", 867.8, 1050.8, 27.5),
      txt("Repacked E [REU]", 575, 250.7, 27.5, { rotation: Math.PI / 2 }),
      txt("Repacked E [REU]", 575, 809, 27.5, { rotation: Math.PI / 2 }),

      txt("275", 790, 73, 26, { align: "left" }), txt("\u2212115", 790.5, 163, 26, { align: "left" }),
      txt("745", 790, 636, 26, { align: "left" }), txt("\u2212110", 790.5, 725.6, 26, { align: "left" }),
    ];

    const orange = { color: "#f5a30e", opacity: 0.5 };
    const black = { color: "#000", opacity: 0.55 };
    const sc = (data: number[][], x: number, y: number, size: number, itemStyle: any) => ({
      type: "scatter", data, xAxisIndex: x, yAxisIndex: y, symbolSize: size, itemStyle, silent: true, z: 2, large: false,
    });

    chart.setOption({
      animation: false,
      backgroundColor: "#fff",
      grid: [
        { left: 676.5, top: 55, width: 387, height: 391, show: true, borderColor: "#707070", borderWidth: 1.5, backgroundColor: "#fff", containLabel: false },
        { left: 692.7, top: 71.7, width: 95.6, height: 97.3, show: true, borderColor: "#707070", borderWidth: 1.5, backgroundColor: "#fff" },
        { left: 676, top: 621, width: 389, height: 377, show: true, borderColor: "#707070", borderWidth: 1.5, backgroundColor: "#fff" },
        { left: 692.7, top: 637.3, width: 95, height: 94.7, show: true, borderColor: "#707070", borderWidth: 1.5, backgroundColor: "#fff" },
      ],
      xAxis: [
        { ...bx.main, position: "bottom", axisLabel: bx.label(3) },
        { ...bx.main, position: "top", axisLabel: { show: false } },
        hidden(1, -130, 300),
        { ...dx.main, position: "bottom", axisLabel: dx.label(3) },
        { ...dx.main, position: "top", axisLabel: { show: false } },
        hidden(3, -150, 805),
      ],
      yAxis: [
        { ...by.main, position: "left", axisLabel: by.label(5) },
        hidden(1, -130, 300),
        { ...dy.main, position: "left", axisLabel: dy.label(5) },
        hidden(3, -150, 805),
      ],
      visualMap: [colorbarMap(1.4, 22.6, 130.7, 250, plainTone), colorbarMap(2, 24.6, 686, 256, warpTone)],
      series: [
        contourSeries(BOX_A, SIZES_A, RMSD_A, LEVELS_A, BANDS_A),
        surfaceSeries(BOX_A, SIZES_A, RMSD_A, 1.4, 22.6, plainTone),
        contourSeries(BOX_C, SIZES_C, RMSD_C, LEVELS_C, BANDS_C),
        surfaceSeries(BOX_C, SIZES_C, RMSD_C, 2, 24.6, warpTone),
        sc(B_ORANGE, 0, 0, 14.5, orange),
        sc(B_ORANGE_BAND, 0, 0, 14.5, orange),
        sc(B_BLACK, 0, 0, 5.5, black),
        sc(B_INSET_ORANGE, 2, 1, 8, { color: "#f5a30e", opacity: 0.75 }),
        sc(B_INSET_BLACK, 2, 1, 3.5, { color: "#000", opacity: 0.65 }),
        sc(D_ORANGE, 3, 2, 14.5, orange),
        sc(D_ORANGE_BAND, 3, 2, 14.5, orange),
        sc(D_BLACK, 3, 2, 5.5, black),
        sc(D_INSET_ORANGE, 5, 3, 7.5, { color: "#f5a30e", opacity: 0.85 }),
        sc(D_INSET_BLACK, 5, 3, 3.2, { color: "#000", opacity: 0.75 }),
      ],
      graphic: { elements: graphicEls },
    });
    return () => chart.dispose();
  }, []);
  return <div ref={ref} style={{ position: "absolute", left: 0, top: 0, width: 1053, height: 1098 }} />;
}
